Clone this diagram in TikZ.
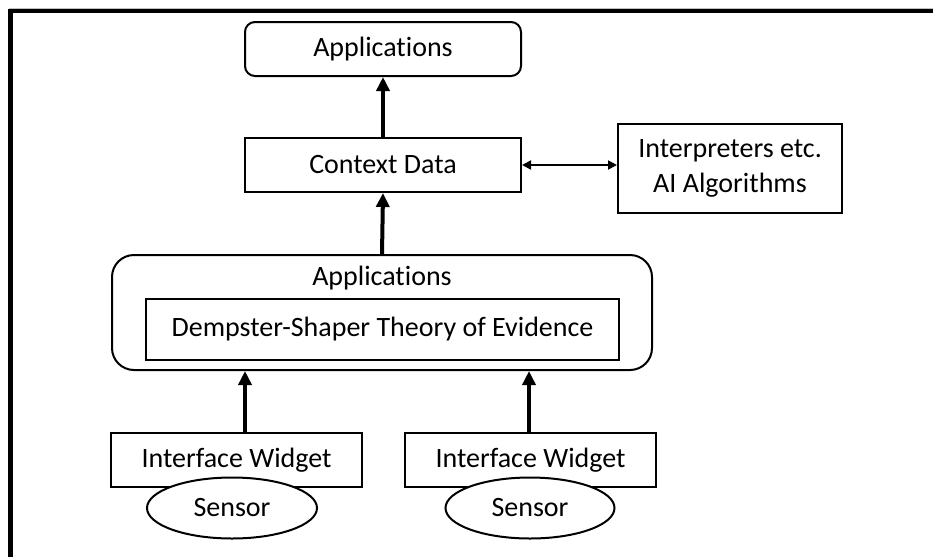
\documentclass[tikz,border=0pt]{standalone}
\usepackage{fontspec}
\setmainfont{Carlito}[Ligatures=NoCommon]
\usetikzlibrary{arrows.meta,shapes.geometric,calc}
\begin{document}
\begin{tikzpicture}[x=1pt,y=-1pt,
  every node/.style={font=\fontsize{28}{35}\selectfont, inner sep=0pt},
  boxstyle/.style={draw, line width=2pt, fill=white},
  roundbox/.style={boxstyle, rounded corners=10pt},
  sensorstyle/.style={draw, line width=2pt, fill=white, ellipse},
  thickarrow/.style={line width=4pt, -{Triangle[width=13pt,length=14pt]}},
  thinarrow/.style={line width=1.8pt, {Triangle[width=9pt,length=9pt]}-{Triangle[width=9pt,length=9pt]}}
]
\useasboundingbox (0,0) rectangle (933,557);
% frame
\draw[gray!50, line width=1pt] (9,8.3) -- (933,8.3);
\draw[line width=4.5pt] (10.5,557) -- (10.5,10.8) -- (933,10.8);

\node[roundbox, minimum width=276pt, minimum height=54pt] (app) at (383,49) {Applications};
\node[boxstyle, minimum width=276pt, minimum height=54pt] (ctx) at (383,165) {Context Data};
\node[boxstyle, minimum width=224pt, minimum height=89pt, align=center] (interp) at (730,168) {Interpreters etc.\\AI Algorithms};

\node[boxstyle, rounded corners=22pt, minimum width=540pt, minimum height=115pt] (big) at (382,312.5) {};
\node (biglabel) at (382,278) {Applications};
\node[boxstyle, minimum width=473pt, minimum height=61pt] (dst) at (382.5,329.5) {Dempster-Shaper Theory of Evidence};

\node[boxstyle, minimum width=251pt, minimum height=54pt] (w1) at (236.5,460) {Interface Widget};
\node[boxstyle, minimum width=251pt, minimum height=54pt] (w2) at (530.5,460) {Interface Widget};
\node[sensorstyle, minimum width=170pt, minimum height=61pt] (s1) at (232,508) {Sensor};
\node[sensorstyle, minimum width=169pt, minimum height=61pt] (s2) at (530,508) {Sensor};

\draw[thickarrow] (ctx.north) -- (app.south);
\draw[thickarrow] (big.north) -- (ctx.south);
\draw[thinarrow] (ctx.east) -- (interp.west |- ctx.east);
\draw[thickarrow] ([xshift=8.5pt]w1.north) -- ([xshift=8.5pt]big.south -| w1.north);
\draw[thickarrow] ([xshift=-1.5pt]w2.north) -- ([xshift=-1.5pt]big.south -| w2.north);
\end{tikzpicture}
\end{document}
